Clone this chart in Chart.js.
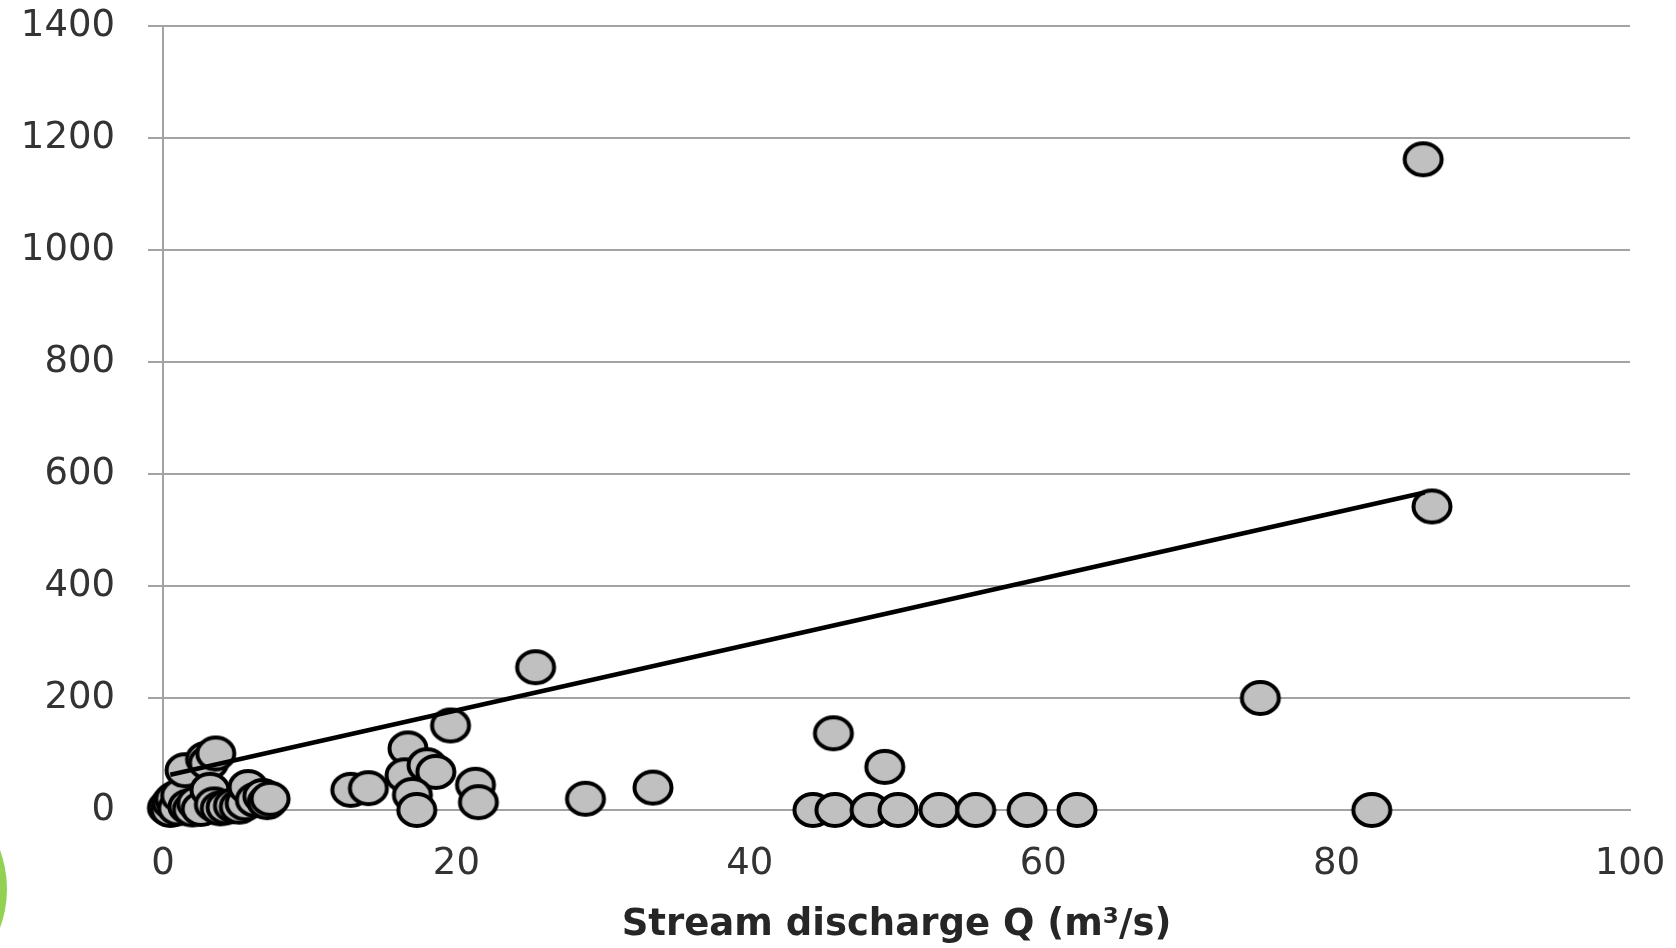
<!DOCTYPE html>
<html>
<head>
<meta charset="utf-8">
<script src="https://cdn.jsdelivr.net/npm/chart.js@4/dist/chart.umd.min.js"></script>
<style>
  body { margin: 0; background: #fff; }
  #box { width: 1676px; height: 948px; }
</style>
</head>
<body>
<div id="box"><canvas id="myChart" width="1676" height="948"></canvas></div>
<script>
// данные с картинки: расход Q (x) и значения (y)
var flowQ = [0.3, 0.5, 0.6, 0.8, 1.0, 1.2, 1.5, 1.7, 2.0, 2.3, 2.6, 2.9, 3.1, 3.2, 3.6, 3.5, 3.9, 4.3, 4.8, 5.2, 5.6, 5.8, 6.3, 6.8, 7.1, 7.3,
             12.8, 14.0, 16.7, 16.5, 18.0, 18.6, 17.0, 17.3, 19.6, 21.3, 21.5, 25.4, 28.8, 33.4,
             44.3, 45.8, 48.2, 50.1, 52.9, 55.4, 58.9, 62.3, 45.7, 49.2, 74.8, 82.4, 85.9, 86.5];
var valueY = [4, 0, 14, 20, 3, 26, 71, 6, 1, 12, 2, 91, 84, 36, 101, 10, 3, 5, 8, 6, 12, 41, 18, 25, 14, 20,
              36, 39, 110, 62, 80, 68, 27, 0, 151, 45, 14, 255, 20, 40,
              0, 0, 0, 0, 0, 0, 0, 0, 137, 77, 200, 0, 1162, 542];

// линия тренда (две точки)
var trendX = [0.5, 86];
var trendY = [63, 567];

// подписи осей
var xTicks = [0, 20, 40, 60, 80, 100];
var yTicks = [0, 200, 400, 600, 800, 1000, 1200, 1400];
var xTitle = 'Stream discharge Q (m\u00B3/s)';

var pts = flowQ.map(function (q, i) { return { x: q, y: valueY[i] }; });
var trend = trendX.map(function (q, i) { return { x: q, y: trendY[i] }; });

// маркер - серый эллипс с чёрной обводкой
var mark = document.createElement('canvas');
mark.width = 44; mark.height = 40;
var mc = mark.getContext('2d');
mc.beginPath();
mc.ellipse(22, 20, 18.5, 16, 0, 0, Math.PI * 2);
mc.fillStyle = '#c0c0c0';
mc.fill();
mc.lineWidth = 4;
mc.strokeStyle = '#000';
mc.stroke();

// зелёный кружок в левом нижнем углу
var greenBit = {
  id: 'greenBit',
  afterDraw: function (chart) {
    var c = chart.ctx;
    c.save();
    c.beginPath();
    c.arc(-105, 889, 112, 0, Math.PI * 2);
    c.fillStyle = '#93d152';
    c.fill();
    c.restore();
  }
};

var gridGrey = '#a3a3a3';
var tickFont = { family: 'DejaVu Sans', size: 37 };

var canvas = document.getElementById('myChart');
var ctx = canvas.getContext('2d');
var myChart = new Chart(ctx, {
  type: 'scatter',
  data: {
    datasets: [{
      type: 'line',
      label: 'trend',
      data: trend,
      borderColor: '#000',
      borderWidth: 4.5,
      pointRadius: 0,
      fill: false,
      clip: false,
      order: 0
    }, {
      label: 'Q',
      data: pts,
      pointStyle: mark,
      pointRadius: 18,
      clip: false,
      order: 1
    }]
  },
  options: {
    responsive: false,
    animation: false,
    devicePixelRatio: 1,
    layout: { padding: { top: 26, right: 46, left: 0, bottom: 0 } },
    plugins: {
      legend: { display: false },
      tooltip: { enabled: false }
    },
    scales: {
      x: {
        type: 'linear',
        min: xTicks[0],
        max: xTicks[xTicks.length - 1],
        ticks: { stepSize: xTicks[1] - xTicks[0], color: '#333', font: tickFont, padding: 32, maxRotation: 0 },
        grid: { display: false, drawTicks: false },
        border: { color: gridGrey, width: 2 },
        title: {
          display: true,
          text: xTitle,
          color: '#262626',
          font: { family: 'DejaVu Sans', size: 37, weight: 'bold' },
          padding: { top: 0, bottom: 0 }
        },
        afterFit: function (s) { s.paddingLeft = 0; s.paddingRight = 0; s.height = 138; }
      },
      y: {
        min: yTicks[0],
        max: yTicks[yTicks.length - 1],
        ticks: {
          stepSize: yTicks[1] - yTicks[0], color: '#333', font: tickFont, padding: 33,
          callback: function (v) { return String(v); }
        },
        grid: { color: gridGrey, lineWidth: 2, tickLength: 15, drawTicks: true, tickColor: gridGrey },
        border: { color: gridGrey, width: 2 },
        afterFit: function (s) { s.width = 163; s.paddingTop = 0; s.paddingBottom = 0; }
      }
    }
  },
  plugins: [greenBit]
});
</script>
</body>
</html>
